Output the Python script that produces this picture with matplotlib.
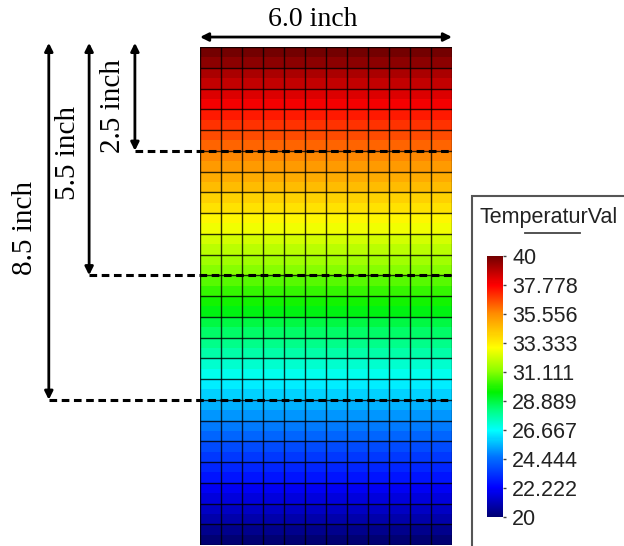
import numpy as np
import matplotlib
matplotlib.use("Agg")
import matplotlib.pyplot as plt
from matplotlib.colors import LinearSegmentedColormap, Normalize
from matplotlib.cm import ScalarMappable
from matplotlib.patches import Rectangle
from matplotlib.lines import Line2D

# ---------------- data ----------------
# temperature of each horizontal band of the plate, top to bottom (2 bands per mesh row)
band_temps = [40.0, 39.6, 39.1, 38.7, 38.3, 37.9, 37.4, 37.0,
              36.6, 36.2, 35.7, 35.3, 34.9, 34.5, 34.0, 33.6,
              33.2, 32.8, 32.3, 31.9, 31.5, 31.1, 30.6, 30.2,
              29.8, 29.4, 28.9, 28.5, 28.1, 27.7, 27.2, 26.8,
              26.4, 26.0, 25.5, 25.1, 24.7, 24.3, 23.8, 23.4,
              23.0, 22.6, 22.1, 21.7, 21.3, 20.9, 20.4, 20.0]
n_cols = 12
plate_width = 6.0
plate_height = 12.0
mesh_size = 0.5
depth_marks = [2.5, 5.5, 8.5]
depth_labels = ["2.5 inch", "5.5 inch", "8.5 inch"]
width_label = "6.0 inch"
cbar_ticks = [40, 37.778, 35.556, 33.333, 31.111, 28.889, 26.667, 24.444, 22.222, 20]
cbar_ticklabels = ["40", "37.778", "35.556", "33.333", "31.111",
                   "28.889", "26.667", "24.444", "22.222", "20"]
cbar_title = "TemperaturVal"
t_min, t_max = 20, 40

# ---------------- colormap ----------------
cmap = LinearSegmentedColormap.from_list("rainbow_fea", [
    (0.00, (0.00, 0.00, 0.45)),
    (0.11, (0.00, 0.00, 1.00)),
    (0.23, (0.00, 0.45, 1.00)),
    (0.33, (0.00, 1.00, 1.00)),
    (0.41, (0.00, 1.00, 0.50)),
    (0.48, (0.00, 0.95, 0.00)),
    (0.56, (0.55, 1.00, 0.00)),
    (0.65, (1.00, 1.00, 0.00)),
    (0.78, (1.00, 0.55, 0.00)),
    (0.89, (1.00, 0.00, 0.00)),
    (1.00, (0.45, 0.00, 0.00)),
])
norm = Normalize(t_min, t_max)

W, H = 624, 546
fig = plt.figure(figsize=(W / 100, H / 100), dpi=100)


def fbox(x0, y0, x1, y1):
    return [x0 / W, 1 - y1 / H, (x1 - x0) / W, (y1 - y0) / H]


serif = "Liberation Serif"
sans = "Liberation Sans"

# ---------------- plate ----------------
ax = fig.add_axes(fbox(200, 47, 452, 545))
temps = np.array(band_temps)
grid = np.tile(temps[:, None], (1, n_cols))
xe = np.linspace(0, plate_width, n_cols + 1)
ye = np.linspace(0, plate_height, len(temps) + 1)
ax.pcolormesh(xe, ye, grid, cmap=cmap, norm=norm, shading="flat")
rows = np.arange(0, plate_height + 1e-9, mesh_size)
ax.vlines(xe, 0, plate_height, colors=(0, 0, 0, 0.8), lw=1.0)
ax.hlines(rows, 0, plate_width, colors=(0, 0, 0, 0.8), lw=1.0)
ax.set_xlim(0, plate_width)
ax.set_ylim(plate_height, 0)
ax.axis("off")

# width dimension
ax.annotate("", xy=(0, -0.24), xytext=(plate_width, -0.24),
            arrowprops=dict(arrowstyle="<|-|>", lw=2, color="k",
                            shrinkA=0, shrinkB=0, mutation_scale=12),
            annotation_clip=False)
ax.text(2.69, -0.67, width_label, ha="center", va="center",
        fontsize=20, family=serif, clip_on=False)

# depth dimensions
arrow_x = [-1.55, -2.64, -3.6]
text_x = [-2.07, -3.14, -4.17]
text_y = [1.42, 2.55, 4.36]
for d, lab, axx, tx, ty in zip(depth_marks, depth_labels, arrow_x, text_x, text_y):
    ax.annotate("", xy=(axx, -0.1), xytext=(axx, d),
                arrowprops=dict(arrowstyle="<|-|>", lw=2, color="k",
                                shrinkA=0, shrinkB=0, mutation_scale=12),
                annotation_clip=False)
    ax.plot([axx, plate_width], [d, d], color="k", lw=2.2,
            dashes=(2.5, 1.5), clip_on=False, solid_capstyle="butt")
    ax.text(tx, ty, lab, rotation=90, ha="center", va="center",
            fontsize=21, family=serif, clip_on=False)

# ---------------- legend / colorbar ----------------
fig.add_artist(Rectangle((472 / W, 1 - 600 / H), 200 / W, (600 - 196) / H,
                         transform=fig.transFigure, fill=False,
                         edgecolor="#555555", lw=1.5))
fig.text(480 / W, 1 - 218 / H, cbar_title, ha="left", va="center",
         fontsize=15.5, family=sans, color="#222222")
fig.add_artist(Line2D([525 / W, 580 / W], [1 - 233 / H, 1 - 233 / H],
                      transform=fig.transFigure, color="#444444", lw=1.3))

cax = fig.add_axes(fbox(487, 256, 503, 517))
sm = ScalarMappable(norm=norm, cmap=cmap)
cb = fig.colorbar(sm, cax=cax)
cb.set_ticks(cbar_ticks, labels=cbar_ticklabels)
cb.outline.set_visible(False)
cax.tick_params(axis="y", length=2.5, width=1, color="#444444", pad=4,
                labelsize=15.5, labelcolor="#222222")
for t in cax.get_yticklabels():
    t.set_family(sans)

fig.savefig("out.png", dpi=100)
